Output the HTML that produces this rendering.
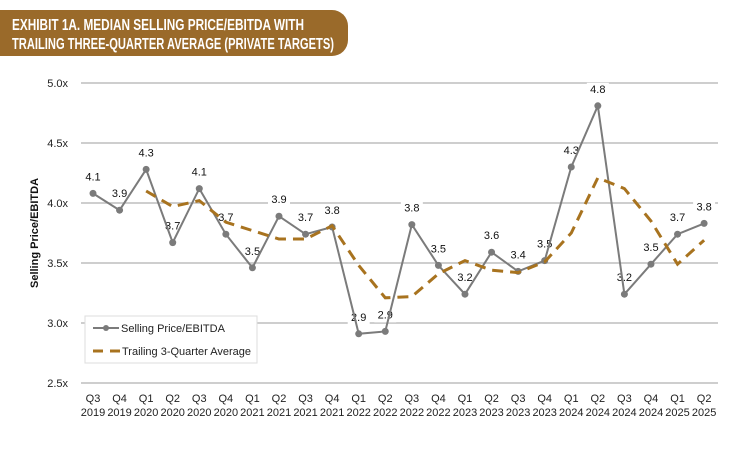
<!DOCTYPE html>
<html><head><meta charset="utf-8"><style>
body{margin:0;background:#fff;width:752px;height:444px;overflow:hidden;font-family:"Liberation Sans",sans-serif}
</style></head><body>
<svg width="752" height="444" xmlns="http://www.w3.org/2000/svg" font-family="Liberation Sans, sans-serif">
<path d="M0 10 H332 a16 16 0 0 1 16 16 V40 a16 16 0 0 1 -16 16 H0 Z" fill="#9a6a2a"/>
<text x="12" y="30" fill="#fff" font-weight="bold" font-size="15.5" textLength="292" lengthAdjust="spacingAndGlyphs">EXHIBIT 1A. MEDIAN SELLING PRICE/EBITDA WITH</text>
<text x="12" y="49" fill="#fff" font-weight="bold" font-size="15.5" textLength="322" lengthAdjust="spacingAndGlyphs">TRAILING THREE-QUARTER AVERAGE (PRIVATE TARGETS)</text>
<g id="g"></g>
</svg>
<script>
const vals=[4.08,3.94,4.28,3.67,4.12,3.74,3.46,3.89,3.74,3.80,2.91,2.93,3.82,3.48,3.24,3.59,3.43,3.52,4.30,4.81,3.24,3.49,3.74,3.83];
const avg=[null,null,4.10,3.97,4.02,3.84,3.77,3.70,3.70,3.81,3.48,3.21,3.22,3.41,3.52,3.44,3.42,3.51,3.75,4.21,4.12,3.85,3.49,3.69];
const lab=["Q3|2019","Q4|2019","Q1|2020","Q2|2020","Q3|2020","Q4|2020","Q1|2021","Q2|2021","Q3|2021","Q4|2021","Q1|2022","Q2|2022","Q3|2022","Q4|2022","Q1|2023","Q2|2023","Q3|2023","Q4|2023","Q1|2024","Q2|2024","Q3|2024","Q4|2024","Q1|2025","Q2|2025"];
const X=i=>93+i*26.57, Y=v=>83+(5-v)*120;
let s='';
[5,4.5,4,3.5,3,2.5].forEach(v=>{s+=`<line x1="81" x2="718" y1="${Y(v)}" y2="${Y(v)}" stroke="#bdbdbd" stroke-width="1.5"/><text x="68" y="${Y(v)+4}" font-size="11" text-anchor="end" fill="#222">${v.toFixed(1)}x</text>`});
s+=`<text transform="translate(38,233) rotate(-90)" font-size="11" font-weight="bold" text-anchor="middle" fill="#111">Selling Price/EBITDA</text>`;
lab.forEach((l,i)=>{const [a,b]=l.split('|');s+=`<text x="${X(i)}" y="402" font-size="11" text-anchor="middle" fill="#222">${a}</text><text x="${X(i)}" y="416" font-size="11" text-anchor="middle" fill="#222">${b}</text>`});
vals.forEach((v,i)=>{const x=X(i),y=Y(v)-13;s+=`<rect x="${x-11}" y="${y-10}" width="22" height="14" fill="#fff"/><text x="${x}" y="${y}" font-size="11" text-anchor="middle" fill="#111">${(Math.floor(v*10+0.5)/10).toFixed(1)}</text>`});
s+=`<polyline fill="none" stroke="#7b7b7b" stroke-width="2" points="${vals.map((v,i)=>X(i)+','+Y(v)).join(' ')}"/>`;
vals.forEach((v,i)=>{s+=`<circle cx="${X(i)}" cy="${Y(v)}" r="3.5" fill="#7b7b7b"/>`});
s+=`<polyline fill="none" stroke="#a8731f" stroke-width="3" stroke-dasharray="11,7" points="${avg.map((v,i)=>v==null?'':X(i)+','+Y(v)).join(' ').trim()}"/>`;
s+=`<rect x="85" y="316" width="172" height="47" fill="#fff" stroke="#ddd"/>
<line x1="93" x2="119" y1="328" y2="328" stroke="#7b7b7b" stroke-width="2"/><circle cx="106" cy="328" r="3" fill="#7b7b7b"/>
<text x="121" y="332" font-size="11" fill="#222">Selling Price/EBITDA</text>
<line x1="93" x2="124" y1="351" y2="351" stroke="#a8731f" stroke-width="3" stroke-dasharray="10,7"/>
<text x="122" y="355" font-size="11" fill="#222">Trailing 3-Quarter Average</text>`;
document.getElementById('g').innerHTML=s;
</script>
</body></html>
